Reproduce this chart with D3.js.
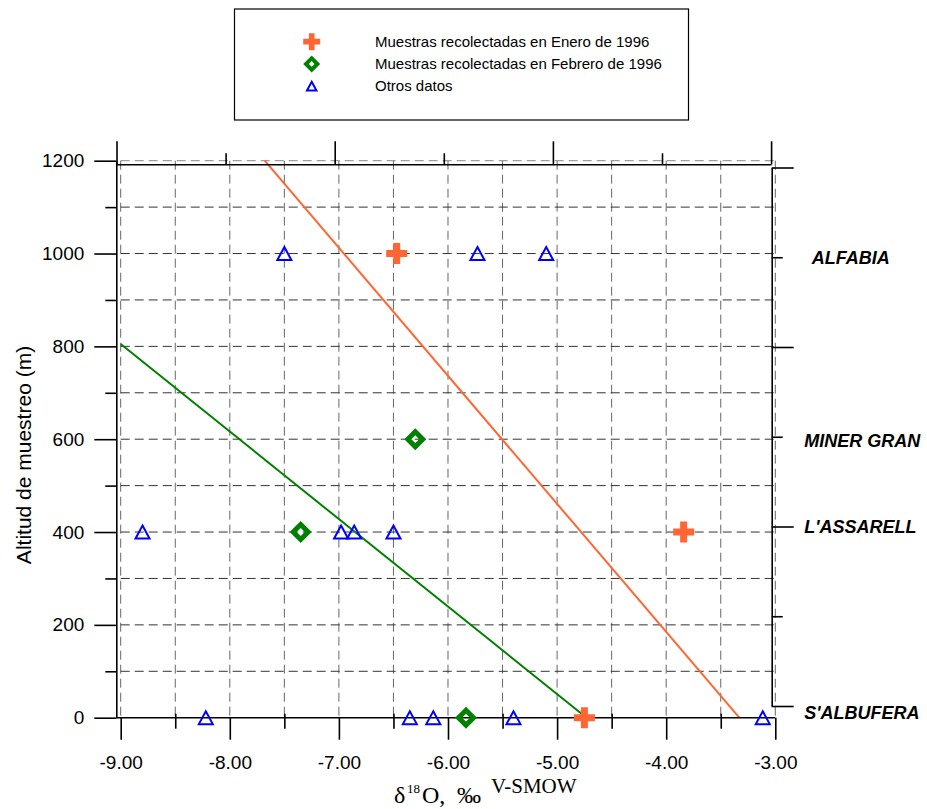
<!DOCTYPE html>
<html>
<head>
<meta charset="utf-8">
<script src="https://cdn.jsdelivr.net/npm/d3@7"></script>
<style>
  body { margin: 0; background: #fff; }
  svg { display: block; font-family: "Liberation Sans", Arial, sans-serif; }
</style>
</head>
<body>
<div id="chart"></div>
<script>
// samples: delta 18O (x) against sampling altitude in m (y)
const enero_x = [-6.47, -3.84, -4.75];
const enero_alt = [1000, 400, 0];
const febrero_x = [-6.30, -7.35, -5.835];
const febrero_alt = [600, 400, 0];
const otros_x = [-7.50, -5.73, -5.10, -8.80, -6.98, -6.86, -6.50, -8.22, -6.35, -6.135, -5.40, -3.115];
const otros_alt = [1000, 1000, 1000, 400, 400, 400, 400, 0, 0, 0, 0, 0];

// fitted lines (end points)
const enero_fit_x = [-7.68, -3.33];
const enero_fit_alt = [1200, 0];
const febrero_fit_x = [-9.00, -4.73];
const febrero_fit_alt = [805, 0];

// ticks
const x_ticks = [-9, -8, -7, -6, -5, -4, -3];
const x_minor_ticks = [-8.5, -7.5, -6.5, -5.5, -4.5, -3.5];
const y_ticks = [0, 200, 400, 600, 800, 1000, 1200];
const y_minor_ticks = [100, 300, 500, 700, 900, 1100];

// stations on the right hand scale
const station_names = ["ALFABIA", "MINER GRAN", "L'ASSARELL", "S'ALBUFERA"];
const station_alt = [1000, 600, 400, 0];

const legend_labels = [
    "Muestras recolectadas en Enero de 1996",
    "Muestras recolectadas en Febrero de 1996",
    "Otros datos"
];

const orange = "#FF6633";
const green = "#008000";
const blue = "#0000FF";

const margin = { top: 160.7, left: 120.7 };
const width = 654.6;
const height = 557;

const svg = d3.select("#chart")
    .append("svg")
    .attr("width", 927)
    .attr("height", 809);

const g = svg.append("g")
    .attr("transform", "translate(" + margin.left + "," + margin.top + ")");

const x = d3.scaleLinear().domain([-9, -3]).range([0, width]);
const y = d3.scaleLinear().domain([0, 1200]).range([height, 0]);
// right hand altitude scale is a little compressed
const y_right = d3.scaleLinear().domain([0, 1200]).range([545.3, 6.8]);

// dashed grid
g.selectAll(".vgrid")
    .data(x_ticks.concat(x_minor_ticks))
    .join("line")
    .attr("x1", d => x(d)).attr("x2", d => x(d))
    .attr("y1", y(1200)).attr("y2", y(0))
    .attr("stroke", "#666")
    .attr("stroke-dasharray", "9,5");

g.selectAll(".hgrid")
    .data(y_ticks.concat(y_minor_ticks).filter(d => d > 0))
    .join("line")
    .attr("x1", x(-9)).attr("x2", x(-3))
    .attr("y1", d => y(d)).attr("y2", d => y(d))
    .attr("stroke", d => d === 1200 ? "#888" : "#333")
    .attr("stroke-dasharray", "9,5");

// fitted lines
const fit = function(xs, alts) {
    return d3.line()
        .x((d, i) => x(d))
        .y((d, i) => y(alts[i]))(xs);
};
g.append("path")
    .attr("d", fit(enero_fit_x, enero_fit_alt))
    .attr("fill", "none").attr("stroke", orange).attr("stroke-width", 2);
g.append("path")
    .attr("d", fit(febrero_fit_x, febrero_fit_alt))
    .attr("fill", "none").attr("stroke", green).attr("stroke-width", 2);

function styleAxis(sel) {
    sel.selectAll("line").attr("stroke", "#000").attr("stroke-width", 1.6);
    sel.selectAll(".domain").attr("stroke", "#000").attr("stroke-width", 1.6);
    sel.selectAll("text")
        .attr("font-size", 19)
        .attr("font-family", "'Liberation Sans', Arial, sans-serif")
        .attr("fill", "#000");
}

// left axis
g.append("g")
    .attr("transform", "translate(-4.4,0)")
    .call(d3.axisLeft(y).tickValues(y_ticks).tickSize(22).tickSizeOuter(0)
        .tickPadding(10).tickFormat(d => d))
    .call(styleAxis);
g.append("g")
    .attr("transform", "translate(-4.4,0)")
    .call(d3.axisLeft(y).tickValues(y_minor_ticks).tickSize(11).tickFormat(""))
    .call(sel => sel.select(".domain").remove())
    .call(styleAxis);

// bottom axis
g.append("g")
    .attr("transform", "translate(0," + height + ")")
    .call(d3.axisBottom(x).tickValues(x_ticks).tickSize(22).tickSizeOuter(0)
        .tickPadding(16).tickFormat(d => d.toFixed(2)))
    .call(sel => sel.select(".domain").remove())
    .call(styleAxis);
g.append("g")
    .attr("transform", "translate(0," + height + ")")
    .call(d3.axisBottom(x).tickValues(x_minor_ticks).tickSize(11).tickFormat(""))
    .call(sel => sel.select(".domain").remove())
    .call(sel => sel.selectAll(".tick line").attr("y1", -4))
    .call(styleAxis);
g.append("line")
    .attr("x1", -4.4).attr("x2", width)
    .attr("y1", height).attr("y2", height)
    .attr("stroke", "#000").attr("stroke-width", 1.6);

// top axis (drawn slightly offset, as in the original)
g.append("g")
    .attr("transform", "translate(-4.2,3.6)")
    .call(d3.axisTop(x).tickValues(x_ticks.filter((d, i) => i % 2 === 0))
        .tickSize(23).tickSizeOuter(0).tickFormat(""))
    .call(styleAxis);
g.append("g")
    .attr("transform", "translate(-4.2,3.6)")
    .call(d3.axisTop(x).tickValues(x_ticks.filter((d, i) => i % 2 === 1))
        .tickSize(11).tickFormat(""))
    .call(sel => sel.select(".domain").remove())
    .call(styleAxis);

// right axis with stations
const right_x = width - 3.6;
g.append("g")
    .attr("transform", "translate(" + right_x + ",0)")
    .call(d3.axisRight(y_right).tickValues(y_ticks.filter((d, i) => i % 2 === 0))
        .tickSize(22).tickSizeOuter(0).tickFormat(""))
    .call(styleAxis);
g.append("g")
    .attr("transform", "translate(" + right_x + ",0)")
    .call(d3.axisRight(y_right).tickValues(y_ticks.filter((d, i) => i % 2 === 1))
        .tickSize(11).tickFormat(""))
    .call(sel => sel.select(".domain").remove())
    .call(styleAxis);

g.selectAll(".station")
    .data(station_names)
    .join("text")
    .attr("x", d => right_x + (d === "ALFABIA" ? 40 : 32.6))
    .attr("y", (d, i) => y_right(station_alt[i]) + (d === "S'ALBUFERA" ? 7 : d === "MINER GRAN" ? 3.5 : 0))
    .attr("dy", "0.36em")
    .attr("font-size", 18)
    .attr("font-weight", "bold")
    .attr("font-style", "italic")
    .text(d => d);

// markers
const triangle = {
    draw(ctx, size) {
        const h = Math.sqrt(size);
        ctx.moveTo(0, -h * 0.46);
        ctx.lineTo(h * 0.5, h * 0.46);
        ctx.lineTo(-h * 0.5, h * 0.46);
        ctx.closePath();
    }
};

g.selectAll(".otros")
    .data(otros_x)
    .join("path")
    .attr("transform", (d, i) => "translate(" + x(d) + "," + y(otros_alt[i]) + ")")
    .attr("d", d3.symbol(triangle, 196))
    .attr("fill", "none")
    .attr("stroke", blue)
    .attr("stroke-width", 2);

g.selectAll(".febrero")
    .data(febrero_x)
    .join("path")
    .attr("transform", (d, i) => "translate(" + x(d) + "," + y(febrero_alt[i]) + ") rotate(45)")
    .attr("d", d3.symbol(d3.symbolSquare, 111))
    .attr("fill", "none")
    .attr("stroke", green)
    .attr("stroke-width", 5);

g.selectAll(".enero")
    .data(enero_x)
    .join("path")
    .attr("transform", (d, i) => "translate(" + x(d) + "," + y(enero_alt[i]) + ")")
    .attr("d", d3.symbol(d3.symbolCross, 245))
    .attr("fill", orange);

// axis titles
svg.append("text")
    .attr("transform", "translate(31,455) rotate(-90)")
    .attr("text-anchor", "middle")
    .attr("font-size", 21)
    .text("Altitud de muestreo (m)");

const xt = svg.append("text")
    .attr("font-family", "'Liberation Serif', 'Times New Roman', serif")
    .attr("fill", "#000");
xt.append("tspan").attr("x", 394).attr("y", 803).attr("font-size", 24).text("δ");
xt.append("tspan").attr("x", 407).attr("y", 793).attr("font-size", 13).text("18");
xt.append("tspan").attr("x", 422).attr("y", 803).attr("font-size", 24).text("O,");
xt.append("tspan").attr("x", 457).attr("y", 803).attr("font-size", 24).text("‰");
xt.append("tspan").attr("x", 491).attr("y", 793).attr("font-size", 21).text("V-SMOW");

// legend
const legend = svg.append("g");
legend.append("rect")
    .attr("x", 234.5).attr("y", 9)
    .attr("width", 454).attr("height", 111)
    .attr("fill", "#fff").attr("stroke", "#000").attr("stroke-width", 1.2);

const legend_symbols = [
    { d: d3.symbol(d3.symbolCross, 160)(), fill: orange, stroke: "none", sw: 0, rot: 0 },
    { d: d3.symbol(d3.symbolSquare, 64)(), fill: "none", stroke: green, sw: 4, rot: 45 },
    { d: d3.symbol(triangle, 90)(), fill: "none", stroke: blue, sw: 2, rot: 0 }
];

legend_labels.forEach(function(label, i) {
    const ly = 41.7 + i * 22.2;
    const s = legend_symbols[i];
    legend.append("path")
        .attr("transform", "translate(311.7," + ly + ") rotate(" + s.rot + ")")
        .attr("d", s.d)
        .attr("fill", s.fill)
        .attr("stroke", s.stroke)
        .attr("stroke-width", s.sw);
    legend.append("text")
        .attr("x", 375)
        .attr("y", ly + 5.3)
        .attr("font-size", 15)
        .text(label);
});
</script>
</body>
</html>
